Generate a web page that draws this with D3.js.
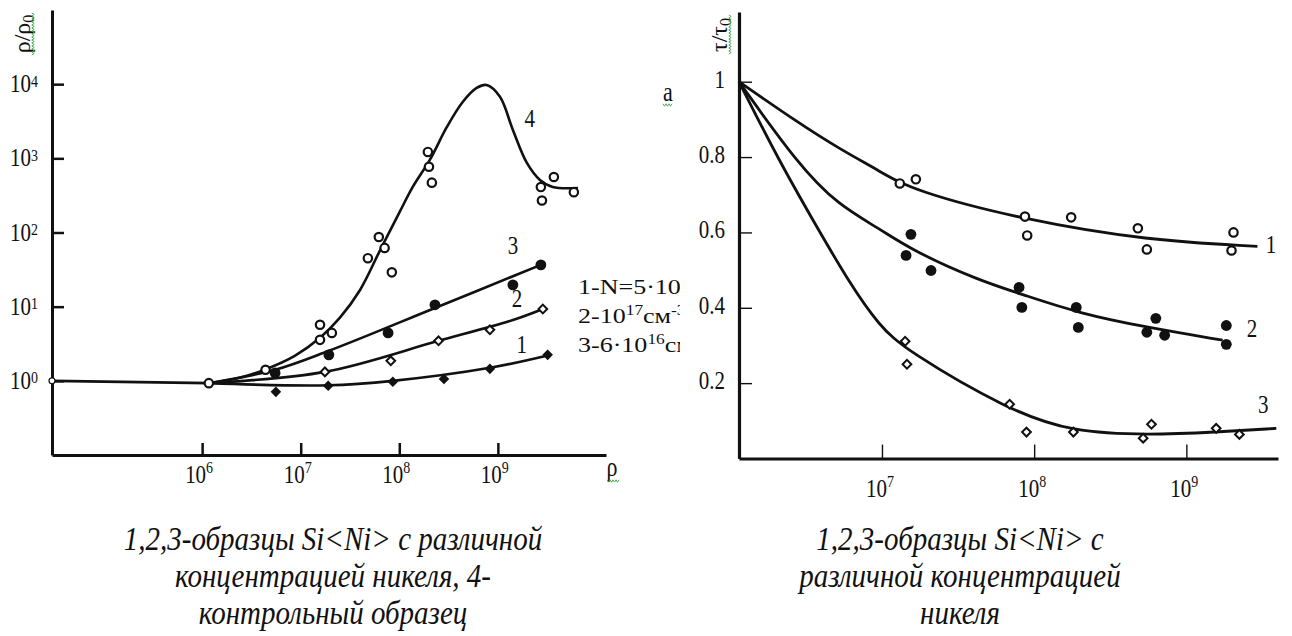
<!DOCTYPE html>
<html>
<head>
<meta charset="utf-8">
<script src="https://cdn.jsdelivr.net/npm/d3@7"></script>
<style>
  body { margin: 0; background: #fff; }
  svg { display: block; }
  text { font-family: "Liberation Serif", "Times New Roman", serif; fill: #111; }
</style>
</head>
<body>
<svg id="chart" width="1292" height="636"></svg>
<script>
// ---- left panel: rho/rho0 against rho (log-log) ----
var leftXTicks = [1e6, 1e7, 1e8, 1e9];
var leftXExp = ["6", "7", "8", "9"];
var leftYTicks = [1, 10, 100, 1000, 1e4];
var leftYExp = ["0", "1", "2", "3", "4"];

var leftEdgePoint = [3e4, 1];
var leftBaseline = [[3e4, 1], [1.17e6, 0.93]];

// fitted curves
var l1Line = [[1.17e6, 0.93], [1.9e7, 0.87], [8.6e7, 1.0], [8.3e8, 1.5], [3.2e9, 2.2]];
var l2Line = [[1.17e6, 0.93], [1.76e7, 1.32], [2.5e8, 3.46], [1.42e9, 6.6], [2.86e9, 9.3]];
var l3Line = [[1.17e6, 0.93], [5.5e6, 1.41], [1.93e7, 2.54], [2.3e8, 9.6], [2.73e9, 36.6]];
var l4Line = [[1.17e6, 0.93], [2.4e6, 1.1], [4.3e6, 1.41], [8.7e6, 2.17], [1.57e7, 3.8],
  [2.5e7, 7.1], [4.0e7, 16.8], [6.4e7, 58], [1.01e8, 190], [1.37e8, 412], [2.04e8, 951],
  [3.04e8, 2650], [4.4e8, 5750], [6.1e8, 8890], [7.7e8, 9750], [1.05e9, 6760],
  [1.42e9, 2415], [1.97e9, 867], [2.67e9, 512], [3.6e9, 412], [6.5e9, 399]];

// measured points
var l1Pts = [[5.6e6, 0.71], [1.9e7, 0.86], [8.6e7, 0.97], [2.84e8, 1.06], [8.3e8, 1.45], [3.2e9, 2.24]];
var l2Pts = [[1.76e7, 1.32], [8.2e7, 1.86], [2.5e8, 3.46], [8.3e8, 4.87], [2.86e9, 9.3]];
var l3Pts = [[5.5e6, 1.28], [1.93e7, 2.24], [7.7e7, 4.43], [2.3e8, 10.6], [1.42e9, 19.7], [2.73e9, 36.6]];
var l4Pts = [[1.17e6, 0.93], [4.4e6, 1.41], [1.57e7, 3.57], [1.57e7, 5.7], [2.07e7, 4.43],
  [4.8e7, 45], [6.2e7, 87], [7.1e7, 62], [8.4e7, 29], [1.95e8, 1220], [2.0e8, 770],
  [2.14e8, 470], [2.73e9, 410], [2.8e9, 270], [3.7e9, 560], [5.9e9, 350]];

var leftCurveNames = ["1", "2", "3", "4"];
var leftNumPos = [[1.75e9, 2.38], [1.56e9, 9.9], [1.42e9, 51], [2.1e9, 2650]];
// legend as it is visible in the source (cut at the panel edge)
var legendLines = [
  [["1-N=5·10", 0]],
  [["2-10", 0], ["17", 1], ["см", 0], ["-3", 1]],
  [["3-6·10", 0], ["16", 1], ["см", 0]]
];

// ---- right panel: tau/tau0 against rho ----
var rightXTicks = [1e7, 1e8, 1e9];
var rightXExp = ["7", "8", "9"];
var rightYTicks = [0.2, 0.4, 0.6, 0.8, 1];

var r1Line = [[1.15e6, 1.0], [2.84e6, 0.89], [5.2e6, 0.823], [9.55e6, 0.764], [1.58e7, 0.711],
  [8.9e7, 0.632], [5.5e8, 0.579], [2.93e9, 0.563]];
var r2Line = [[1.15e6, 1.0], [2.84e6, 0.778], [5.2e6, 0.672], [9.55e6, 0.611], [1.58e7, 0.552],
  [4.3e7, 0.473], [8.3e7, 0.436], [1.98e8, 0.385], [5.5e8, 0.348], [1.73e9, 0.314]];
var r3Line = [[1.15e6, 1.0], [2.1e6, 0.791], [3.85e6, 0.605], [6.1e6, 0.467], [9.55e6, 0.353],
  [1.44e7, 0.287], [6.8e7, 0.128], [1.78e8, 0.07], [5.7e8, 0.062], [1.57e9, 0.07], [3.9e9, 0.08]];

var r1Pts = [[1.31e7, 0.73], [1.67e7, 0.741], [8.7e7, 0.642], [9.0e7, 0.592], [1.75e8, 0.64],
  [4.8e8, 0.611], [5.5e8, 0.555], [2.04e9, 0.6], [1.98e9, 0.552]];
var r2Pts = [[1.55e7, 0.595], [1.44e7, 0.539], [2.1e7, 0.499], [7.96e7, 0.454], [8.3e7, 0.401],
  [1.89e8, 0.401], [1.95e8, 0.348], [6.3e8, 0.372], [5.5e8, 0.335], [7.2e8, 0.327],
  [1.83e9, 0.353], [1.83e9, 0.303]];
var r3Pts = [[1.42e7, 0.311], [1.46e7, 0.25], [6.9e7, 0.144], [8.9e7, 0.07], [1.81e8, 0.07],
  [5.9e8, 0.091], [5.2e8, 0.054], [1.57e9, 0.08], [2.23e9, 0.064]];
var rightNumPos = [[3.6e9, 0.545], [2.7e9, 0.323], [3.2e9, 0.122]];

var leftCaption = ["1,2,3-образцы Si<Ni> с различной", "концентрацией никеля, 4-", "контрольный образец"];
var rightCaption = ["1,2,3-образцы Si<Ni> с", "различной концентрацией", "никеля"];

var ink = "#111";
var svg = d3.select("#chart");

svg.append("defs").append("clipPath").attr("id", "leftClip")
  .append("rect").attr("x", 0).attr("y", 0).attr("width", 680).attr("height", 636);

// helpers
function stretchedText(g, x, y, size, anchor, sy, sx) {
  return g.append("text")
      .attr("transform", "translate(" + x + "," + y + ") scale(" + (sx || 1) + "," + sy + ")")
      .attr("text-anchor", anchor)
      .style("font-size", size + "px");
}

function powLabel(g, x, y, exp, anchor, supDy) {
  var t = stretchedText(g, x, y, 21, anchor, 1.22);
  t.append("tspan").text("10");
  t.append("tspan").attr("dy", supDy).style("font-size", "14px").text(exp);
}

function squiggle(g, x0, y0, len, vertical) {
  var pts = [];
  for (var i = 0; i <= len; i += 1.5) {
    var off = (Math.round(i / 1.5) % 2) ? 1.2 : -1.2;
    pts.push(vertical ? [x0 + off, y0 + i] : [x0 + i, y0 + off]);
  }
  g.append("path").attr("d", d3.line()(pts))
      .attr("fill", "none").attr("stroke", "#4caf50").attr("stroke-width", 1);
}

function drawMarkers(g, pts, x, y, kind) {
  var sel = g.append("g").selectAll("path").data(pts).enter();
  if (kind === "openCircle" || kind === "fullCircle") {
    sel.append("circle")
        .attr("cx", function(d) { return x(d[0]); })
        .attr("cy", function(d) { return y(d[1]); })
        .attr("r", kind === "openCircle" ? 4.2 : 5.4)
        .attr("fill", kind === "openCircle" ? "#fff" : ink)
        .attr("stroke", ink)
        .attr("stroke-width", kind === "openCircle" ? 2.2 : 0);
  } else {
    var open = kind === "openDiamond";
    sel.append("path")
        .attr("d", d3.symbol(d3.symbolSquare, open ? 38 : 56)())
        .attr("transform", function(d) {
          return "translate(" + x(d[0]) + "," + y(d[1]) + ") rotate(45)";
        })
        .attr("fill", open ? "#fff" : ink)
        .attr("stroke", ink)
        .attr("stroke-width", open ? 2 : 0);
  }
}

// =================== left panel ===================
var xL = d3.scaleLog().domain([3e4, 1.25e10]).range([52, 606]);
var yL = d3.scaleLog().domain([0.1, 1e5]).range([455, 10]);
var left = svg.append("g").attr("clip-path", "url(#leftClip)");

var gxL = left.append("g").attr("transform", "translate(0," + yL(0.1) + ")")
    .call(d3.axisBottom(xL).tickValues(leftXTicks).tickSize(-12).tickSizeOuter(0).tickFormat(""));
var gyL = left.append("g").attr("transform", "translate(" + xL(3e4) + ",0)")
    .call(d3.axisLeft(yL).tickValues(leftYTicks).tickSize(-12).tickSizeOuter(0).tickFormat(""));
[gxL, gyL].forEach(function(g) {
  g.select(".domain").attr("stroke", ink).attr("stroke-width", 3);
  g.selectAll(".tick line").attr("stroke", ink).attr("stroke-width", 2.5);
});

leftXTicks.forEach(function(v, i) {
  powLabel(left, xL(v) - 3, yL(0.1) + 28, leftXExp[i], "middle", -8);
});
leftYTicks.forEach(function(v, i) {
  powLabel(left, 38, yL(v) + 8, leftYExp[i], "end", -4.5);
});

var lineL = d3.line()
    .x(function(d) { return xL(d[0]); })
    .y(function(d) { return yL(d[1]); })
    .curve(d3.curveCatmullRom.alpha(0.5));

[leftBaseline, l1Line, l2Line, l3Line, l4Line].forEach(function(data) {
  left.append("path").datum(data).attr("d", lineL)
      .attr("fill", "none").attr("stroke", ink).attr("stroke-width", 2.6);
});

drawMarkers(left, l1Pts, xL, yL, "fullDiamond");
drawMarkers(left, l2Pts, xL, yL, "openDiamond");
drawMarkers(left, l3Pts, xL, yL, "fullCircle");
drawMarkers(left, l4Pts, xL, yL, "openCircle");
left.append("circle").attr("cx", xL(leftEdgePoint[0])).attr("cy", yL(leftEdgePoint[1]))
    .attr("r", 3).attr("fill", "#fff").attr("stroke", ink).attr("stroke-width", 1.2);

// curve numbers
leftCurveNames.forEach(function(n, i) {
  stretchedText(left, xL(leftNumPos[i][0]), yL(leftNumPos[i][1]), 21, "middle", 1.22).text(n);
});

// legend text
legendLines.forEach(function(parts, i) {
  var t = stretchedText(left, 578, 294 + i * 29, 21, "start", 1, 1.24);
  parts.forEach(function(p, j) {
    var ts = t.append("tspan").text(p[0]);
    if (p[1]) ts.attr("dy", -8).style("font-size", "14px");
    else if (j > 0) ts.attr("dy", 8);
  });
});

// axis titles and mark
var ttl = left.append("text").attr("transform", "translate(30,34) rotate(-90)")
    .attr("text-anchor", "middle").style("font-size", "24px");
ttl.append("tspan").text("ρ/ρ");
ttl.append("tspan").attr("dy", 4).style("font-size", "16px").text("0");
squiggle(left, 33, 13, 42, true);

stretchedText(left, 612, 476, 22, "middle", 1.2).text("ρ");
squiggle(left, 607, 481, 12, false);
stretchedText(left, 668, 101, 22, "middle", 1.2).text("a");
squiggle(left, 663, 105, 10, false);

// =================== right panel ===================
var xR = d3.scaleLog().domain([1.15e6, 4e9]).range([739, 1278]);
var yR = d3.scaleLinear().domain([0, 1.185]).range([458.5, 12]);
var right = svg.append("g");

var gxR = right.append("g").attr("transform", "translate(0," + yR(0) + ")")
    .call(d3.axisBottom(xR).tickValues(rightXTicks).tickSize(-14).tickSizeOuter(0).tickFormat(""));
var gyR = right.append("g").attr("transform", "translate(" + xR(1.15e6) + ",0)")
    .call(d3.axisLeft(yR).tickValues(rightYTicks).tickSize(-13).tickSizeOuter(0).tickFormat(""));
[gxR, gyR].forEach(function(g) {
  g.select(".domain").attr("stroke", ink).attr("stroke-width", 3.2);
  g.selectAll(".tick line").attr("stroke", ink).attr("stroke-width", 1.4);
});

rightXTicks.forEach(function(v, i) {
  powLabel(right, xR(v) - 2, yR(0) + 38, rightXExp[i], "middle", -8);
});
rightYTicks.forEach(function(v) {
  stretchedText(right, 725, yR(v) + 6, 21, "end", 1.22).text(v === 1 ? "1" : d3.format(".1f")(v));
});

// smoothed fit lines (basis spline keeps the end points)
var lineR = d3.line()
    .x(function(d) { return xR(d[0]); })
    .y(function(d) { return yR(d[1]); })
    .curve(d3.curveBasis);

[r1Line, r2Line, r3Line].forEach(function(data) {
  right.append("path").datum(data).attr("d", lineR)
      .attr("fill", "none").attr("stroke", ink).attr("stroke-width", 2.8);
});

drawMarkers(right, r1Pts, xR, yR, "openCircle");
drawMarkers(right, r2Pts, xR, yR, "fullCircle");
drawMarkers(right, r3Pts, xR, yR, "openDiamond");

["1", "2", "3"].forEach(function(n, i) {
  stretchedText(right, xR(rightNumPos[i][0]), yR(rightNumPos[i][1]), 21, "middle", 1.22).text(n);
});

var ttlR = right.append("text").attr("transform", "translate(727,35) rotate(-90)")
    .attr("text-anchor", "middle").style("font-size", "24px");
ttlR.append("tspan").text("τ/τ");
ttlR.append("tspan").attr("dy", 4).style("font-size", "16px").text("0");
squiggle(right, 730, 15, 40, true);

// =================== captions ===================
function caption(lines, cx) {
  lines.forEach(function(s, i) {
    stretchedText(svg, cx, 550 + i * 37, 29, "middle", 1.15)
        .style("font-style", "italic").text(s);
  });
}
caption(leftCaption, 333);
caption(rightCaption, 960);
</script>
</body>
</html>
